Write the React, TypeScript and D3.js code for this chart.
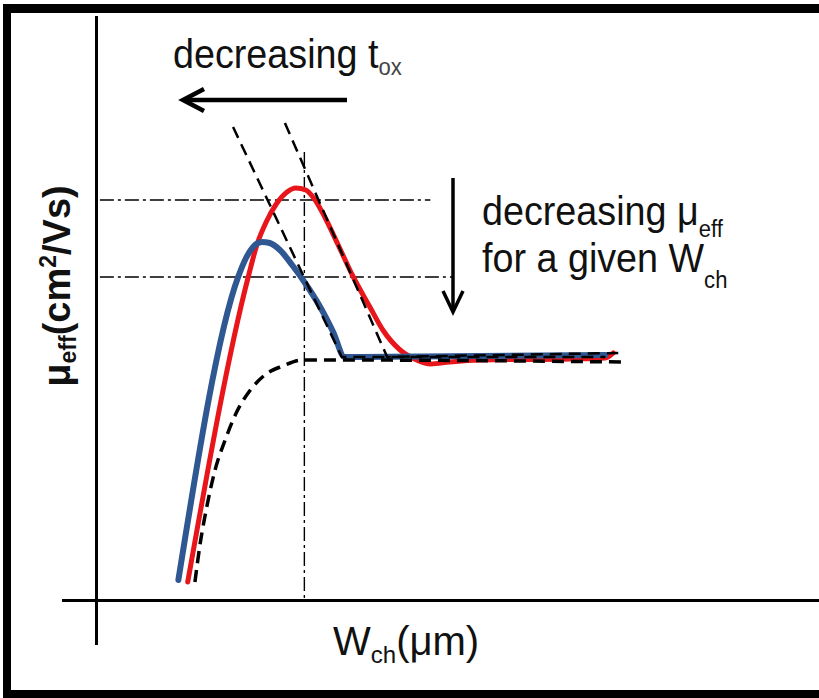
import React from "react";
import * as d3 from "d3";

// ---- data (schematic units: W_ch along x, mu_eff along y) ----
const xDomain: [number, number] = [0, 10];
const yDomain: [number, number] = [0, 12];

// thicker-oxide device (red): higher peak
const redCurve: [number, number][] = [
  [1.26, 0.36], [2.10, 6.46], [2.22, 7.10], [2.35, 7.56], [2.49, 7.92],
  [2.64, 8.16], [2.76, 8.24], [2.90, 8.20], [3.01, 8.04], [3.17, 7.64],
  [3.35, 7.10], [3.56, 6.46], [3.79, 5.86], [3.97, 5.40], [4.21, 5.00],
  [4.44, 4.80], [4.63, 4.72], [4.90, 4.76], [5.32, 4.80], [6.57, 4.82],
  [7.06, 4.84], [7.17, 4.94],
];

// thinner-oxide device (blue): lower peak, shifted left
const blueCurve: [number, number][] = [
  [1.13, 0.40], [1.96, 6.46], [2.07, 6.84], [2.18, 7.08], [2.29, 7.16],
  [2.40, 7.14], [2.54, 7.00], [2.71, 6.70], [2.89, 6.34], [3.10, 5.86],
  [3.28, 5.36], [3.44, 4.86], [3.65, 4.86], [7.06, 4.90],
];

// universal (no narrow-channel effect) reference, dashed
const baseCurve: [number, number][] = [
  [1.36, 0.36], [1.43, 1.10], [1.53, 1.90], [1.64, 2.60], [1.78, 3.20],
  [1.94, 3.76], [2.13, 4.20], [2.33, 4.50], [2.58, 4.68], [2.86, 4.80],
  [3.24, 4.80], [7.33, 4.76],
];

// dashed envelopes
const envelopeLeft: [number, number][] = [[1.89, 9.46], [3.40, 4.86], [7.06, 4.86]];
const envelopeRight: [number, number][] = [[2.61, 9.54], [4.03, 4.86], [7.24, 4.94]];

// dash-dot guide levels
const guideLevels = [8.0, 6.46];
const guideEnds = [4.63, 4.95];
const guideStart = 0.04;
const guideWidth = 2.88;
const guideTop = 8.96;

const W = 819;
const H = 698;

export default function App() {
  const x = d3.scaleLinear().domain(xDomain).range([97, 817]);
  const y = d3.scaleLinear().domain(yDomain).range([600, 0]);

  const smooth = d3
    .line<[number, number]>()
    .x((d) => x(d[0]))
    .y((d) => y(d[1]))
    .curve(d3.curveMonotoneX);
  const straight = d3
    .line<[number, number]>()
    .x((d) => x(d[0]))
    .y((d) => y(d[1]));

  const font = "'Liberation Sans', Arial, sans-serif";
  const sx = 0.92;

  return (
    <div style={{ position: "absolute", left: 0, top: 0, width: W, height: H, overflow: "hidden" }}>
      <svg width={W} height={H} style={{ display: "block" }} fontFamily={font}>
        <rect x={0} y={0} width={W} height={H} fill="#fff" />
        {/* frame (open on the right) */}
        <rect x={3} y={4} width={W - 3} height={9} fill="#000" />
        <rect x={3} y={4} width={8} height={H - 4} fill="#000" />
        <rect x={3} y={690} width={W - 3} height={8} fill="#000" />

        {/* axes */}
        <line x1={96.5} x2={96.5} y1={16} y2={645} stroke="#000" strokeWidth={3} />
        <line x1={62} x2={W} y1={600.5} y2={600.5} stroke="#000" strokeWidth={3} />

        {/* dash-dot guides */}
        {guideLevels.map((lv, i) => (
          <line
            key={i}
            x1={x(guideStart)}
            x2={x(guideEnds[i])}
            y1={y(lv)}
            y2={y(lv)}
            stroke="#000"
            strokeWidth={1.4}
            strokeDasharray="14 4 3 4"
          />
        ))}
        <line
          x1={x(guideWidth)}
          x2={x(guideWidth)}
          y1={y(guideTop)}
          y2={y(0)}
          stroke="#000"
          strokeWidth={1.4}
          strokeDasharray="14 4 3 4"
        />

        {/* curves */}
        <path d={smooth(redCurve) ?? ""} fill="none" stroke="#e8161b" strokeWidth={5} strokeLinecap="round" />
        <path d={smooth(blueCurve) ?? ""} fill="none" stroke="#2f5791" strokeWidth={6} strokeLinecap="round" strokeLinejoin="round" />
        <path d={smooth(baseCurve) ?? ""} fill="none" stroke="#000" strokeWidth={3.5} strokeDasharray="12 7" />
        <path d={straight(envelopeLeft) ?? ""} fill="none" stroke="#000" strokeWidth={2.5} strokeDasharray="12 7" />
        <path d={straight(envelopeRight) ?? ""} fill="none" stroke="#000" strokeWidth={2.5} strokeDasharray="12 7" />

        {/* left arrow: decreasing tox */}
        <line x1={347} x2={184} y1={100} y2={100} stroke="#000" strokeWidth={4.5} />
        <path d="M204,89 L183,100 L204,111" fill="none" stroke="#000" strokeWidth={4.5} strokeLinejoin="miter" />
        <g transform={`translate(173,68) scale(${sx},1)`}>
          <text fontSize={41} fill="#111">
            decreasing t
            <tspan fontSize={24} dy={7} fill="#444">ox</tspan>
          </text>
        </g>

        {/* down arrow */}
        <line x1={453} x2={453} y1={178} y2={311} stroke="#000" strokeWidth={3.5} />
        <path d="M443,291 L453,312 L463,291" fill="none" stroke="#000" strokeWidth={3.5} />
        <g transform={`translate(482,225) scale(${sx},1)`}>
          <text fontSize={41} fill="#111">
            decreasing μ
            <tspan fontSize={24} dy={12}>eff</tspan>
          </text>
        </g>
        <g transform={`translate(482,272) scale(${sx},1)`}>
          <text fontSize={41} fill="#111">
            for a given W
            <tspan fontSize={24} dy={16}>ch</tspan>
          </text>
        </g>

        {/* y label */}
        <g transform="translate(70,286) rotate(-90)">
          <text fontSize={38} fill="#111" fontWeight="bold" textAnchor="middle">
            μ<tspan fontSize={23} dy={6}>eff</tspan>
            <tspan dy={-6}>(cm</tspan>
            <tspan fontSize={23} dy={-14}>2</tspan>
            <tspan dy={14}>/Vs)</tspan>
          </text>
        </g>

        {/* x label */}
        <g transform="translate(333,655)">
          <text fontSize={40} fill="#111">
            W<tspan fontSize={24} dy={8}>ch</tspan>
            <tspan dy={-8}>(μm)</tspan>
          </text>
        </g>
      </svg>
    </div>
  );
}
